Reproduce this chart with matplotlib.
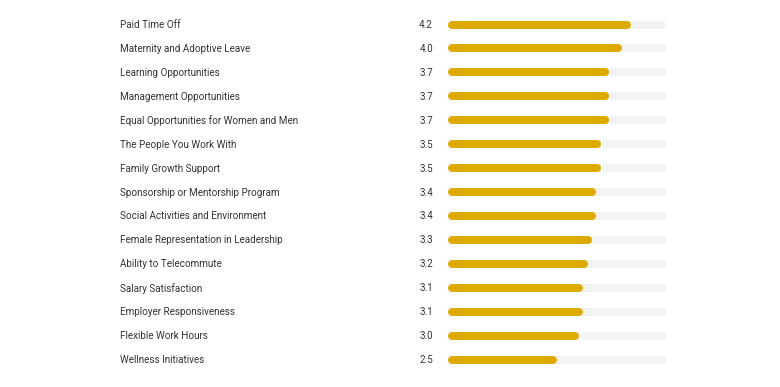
import matplotlib
matplotlib.use("Agg")
import matplotlib.pyplot as plt

# ── data ──────────────────────────────────────────────────────────────────────
categories = [
    "Paid Time Off",
    "Maternity and Adoptive Leave",
    "Learning Opportunities",
    "Management Opportunities",
    "Equal Opportunities for Women and Men",
    "The People You Work With",
    "Family Growth Support",
    "Sponsorship or Mentorship Program",
    "Social Activities and Environment",
    "Female Representation in Leadership",
    "Ability to Telecommute",
    "Salary Satisfaction",
    "Employer Responsiveness",
    "Flexible Work Hours",
    "Wellness Initiatives",
]
scores = [4.2, 4.0, 3.7, 3.7, 3.7, 3.5, 3.5, 3.4, 3.4, 3.3, 3.2, 3.1, 3.1, 3.0, 2.5]
max_score = 5.0

# ── figure ────────────────────────────────────────────────────────────────────
W, H = 780, 387
plt.rcParams["font.family"] = ["Roboto", "DejaVu Sans"]
fig = plt.figure(figsize=(W / 100, H / 100), dpi=100)
fig.patch.set_facecolor("white")

x0_px, x1_px = 448, 666          # track extent in pixels
top_px, step_px = 24.5, 23.93    # first row centre and row spacing
ax = fig.add_axes([x0_px / W, 0, (x1_px - x0_px) / W, 1])
ax.set_xlim(0, max_score)
ax.set_ylim((H - top_px) / step_px, -top_px / step_px)
ax.axis("off")

bar_px = 8
lw = bar_px * 72 / 100
r = (bar_px / 2) / ((x1_px - x0_px) / max_score)   # cap radius in data units

gold = "#DDAA00"
track = "#F2F2F2"
text_col = "#333333"

for i, (cat, val) in enumerate(zip(categories, scores)):
    ax.plot([r, max_score - r], [i, i], color=track, lw=lw,
            solid_capstyle="round", zorder=1)
    ax.plot([r, val - r], [i, i], color=gold, lw=lw,
            solid_capstyle="round", zorder=2)
    y_fig = 1 - (top_px + 0.5 + step_px * i) / H
    fig.text(120 / W, y_fig, cat, ha="left", va="center",
             fontsize=7.1, color=text_col)
    fig.text(433 / W, y_fig, f"{val:.1f}", ha="right", va="center",
             fontsize=7.1, color=text_col)

fig.savefig("out.png", dpi=100, facecolor=fig.get_facecolor())
